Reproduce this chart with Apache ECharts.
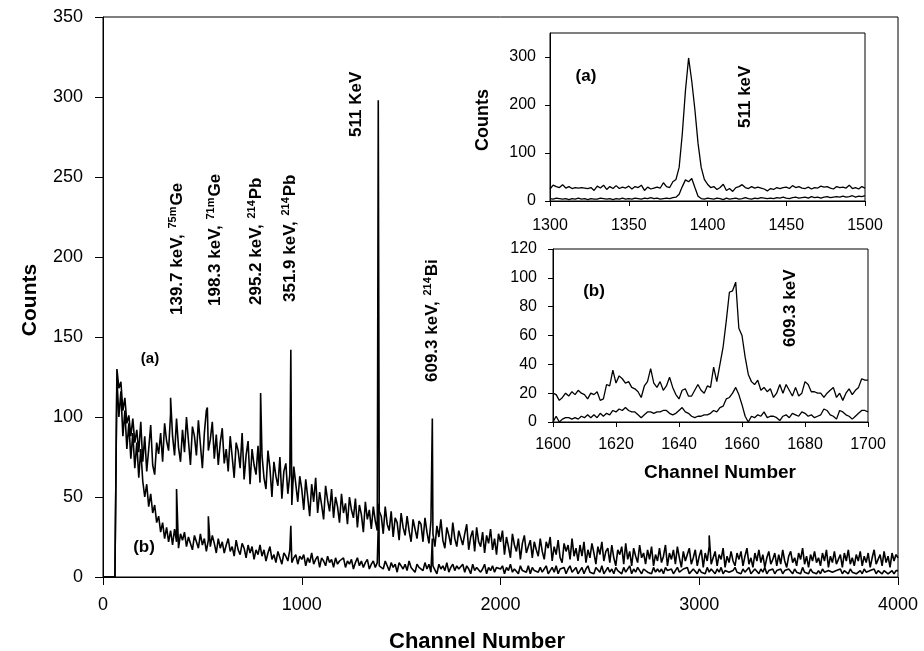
<!DOCTYPE html>
<html><head><meta charset="utf-8">
<script src="https://cdn.jsdelivr.net/npm/echarts@6/dist/echarts.min.js"></script>
<style>html,body{margin:0;padding:0;background:#fff}#c{width:924px;height:651px}</style>
</head><body><div id="c"></div>
<script>
// ---- Main spectrum, channel step 10 (0..4000) ----
const MAIN_STEP = 10;
const mainA = [
0,0,0,0,0,0,0,130,118,122,104,112,96,101,88,99,84,92,78,97,
72,88,66,80,95,70,64,84,77,90,72,96,85,79,102,88,76,99,81,72,
92,78,100,85,70,94,88,76,98,83,68,90,104,79,86,97,74,89,70,84,
93,71,80,66,88,75,62,84,79,68,90,61,76,85,58,80,70,64,82,59,
76,62,55,79,68,50,72,63,57,75,49,66,71,52,64,45,69,58,47,63,
55,42,61,50,38,58,47,62,40,53,45,36,57,48,41,55,37,50,44,34,
52,40,46,33,50,42,37,49,31,45,39,28,47,36,42,30,44,35,29,41,
38,27,44,33,29,41,25,37,34,23,40,31,26,38,29,22,36,30,24,35,
33,22,37,28,21,35,27,19,32,25,36,23,18,31,26,20,34,24,19,29,
30,20,27,33,17,25,29,16,31,22,19,28,15,26,21,30,17,24,14,27,
22,29,14,25,19,12,27,20,16,24,11,21,26,15,19,23,12,22,17,13,
24,16,11,22,18,25,10,19,14,23,12,9,21,16,20,11,24,13,18,10,
20,13,22,9,17,12,21,15,8,19,14,22,10,16,18,9,20,12,7,17,
14,19,8,21,11,16,7,18,13,9,20,12,15,8,17,11,19,7,14,10,
18,9,13,20,7,15,11,17,8,19,12,6,16,10,14,18,8,12,17,7,
13,17,6,15,10,19,8,12,16,7,14,11,18,6,13,9,16,10,7,15,
11,16,7,13,18,8,12,6,15,10,17,9,14,6,12,16,8,11,15,7,
14,8,17,10,6,13,16,9,12,7,15,11,18,8,13,6,14,10,16,9,
12,7,15,10,17,6,13,9,16,8,11,14,6,15,10,17,8,12,7,14,
10,16,7,13,9,15,6,12,17,8,11,14,7,16,9,13,6,15,10,14,
12];
const peaksA = [[340,112],[525,106],[793,115],[945,142],[1385,298],[1657,99],[3050,26]];
const mainB = [
0,0,0,0,0,0,0,124,100,116,88,104,80,96,74,90,68,84,62,80,
60,50,58,44,52,40,45,34,38,28,34,24,31,22,29,20,30,22,18,27,
23,28,19,25,21,17,26,22,18,27,20,24,16,23,19,26,21,15,24,18,
22,15,20,24,16,19,13,23,17,14,21,18,12,20,15,19,11,17,14,20,
13,17,10,15,19,11,14,9,16,12,8,15,13,10,17,9,12,14,8,13,
11,14,7,12,9,15,8,11,13,6,12,10,7,13,9,11,6,12,8,10,
9,12,6,10,8,11,5,9,12,7,10,6,9,11,5,8,10,6,9,7,
8,5,10,7,4,9,6,8,3,9,7,5,8,4,10,6,7,3,8,6,
7,4,9,5,8,3,7,6,2,8,5,7,4,9,3,6,8,4,7,5,
6,8,3,7,5,2,8,4,6,7,3,5,8,2,6,4,7,3,6,5,
5,7,2,6,4,8,3,5,6,2,7,4,5,3,7,2,6,4,5,3,
6,3,5,7,2,4,6,3,7,2,5,4,6,2,5,7,3,4,6,2,
4,6,2,5,7,3,4,2,6,5,3,7,2,4,6,3,5,2,6,4,
5,2,6,3,4,7,2,5,3,6,4,2,5,6,3,4,2,6,3,5,
3,5,2,6,4,3,5,2,4,6,3,2,5,4,6,2,3,5,4,2,
5,3,4,2,6,3,5,4,2,5,3,6,2,4,5,3,2,4,6,3,
4,2,5,3,4,6,2,3,5,4,2,5,3,6,2,4,3,5,2,4,
3,5,2,4,3,5,4,2,5,3,4,2,6,3,4,2,5,3,4,2,
4,2,5,3,2,4,5,3,2,4,3,5,2,4,3,2,5,3,4,2,
3,4,2,5,3,2,4,3,5,2,4,3,2,4,5,2,3,4,2,4,
4];
const peaksB = [[370,55],[530,38],[945,32],[1388,46],[1657,24]];

// ---- Inset (a): channels 1300..1500, step 2 ----
const INSET_A_START = 1300, INSET_A_STEP = 2;
const insetAUpper = [
25,33,30,28,34,27,30,26,28,27,28,27,26,28,22,31,27,33,24,30,26,
32,26,29,27,31,25,30,28,33,22,29,25,27,29,27,38,30,28,40,45,
70,140,230,298,250,190,120,70,45,35,
28,30,24,28,35,22,26,20,28,30,34,28,26,30,27,29,27,25,21,26,
24,28,26,28,29,26,32,28,30,27,26,29,25,28,27,31,29,30,27,25,
30,28,29,27,33,26,28,25,30,27];
const insetALower = [
5,4,6,5,4,5,3,5,4,6,4,5,3,5,4,4,6,5,4,5,3,
5,4,6,4,5,4,6,5,4,6,5,7,5,6,4,5,6,5,7,8,
14,30,44,40,47,28,10,5,4,6,
5,4,6,5,3,6,4,5,6,4,5,7,5,4,6,5,7,6,5,6,
5,7,6,8,6,5,7,8,6,7,8,6,9,7,8,6,8,9,7,8,
9,8,10,8,9,11,8,10,9,11];

// ---- Inset (b): channels 1600..1700, step 1 ----
const INSET_B_START = 1600, INSET_B_STEP = 1;
const insetBUpper = [
20,19,15,17,20,18,21,19,22,20,
19,16,20,19,21,15,16,26,25,36,
27,32,30,27,28,24,23,21,17,25,
28,37,27,24,28,22,25,31,24,19,
16,22,23,18,18,22,26,22,20,25,
24,38,28,40,52,70,90,91,97,65,
60,45,33,28,26,29,22,24,21,23,
17,20,26,20,26,22,18,24,18,20,
28,26,21,21,20,20,17,20,22,24,
17,20,15,20,23,19,22,24,30,29,
29];
const insetBLower = [
0,4,0,2,3,3,2,3,2,4,
3,5,3,5,3,6,4,6,5,8,
7,9,8,10,8,7,7,5,3,5,
7,7,6,7,7,8,8,6,5,6,
8,10,7,6,4,3,4,4,5,5,
6,8,7,10,11,16,17,20,24,19,
12,4,0,4,3,5,4,7,3,4,
4,3,1,4,5,3,6,5,4,7,
6,4,5,3,4,5,9,8,5,4,
2,8,7,5,4,2,4,6,8,8,
7];

// axis ticks
const mainXTicks = {min:0, max:4000, interval:1000};
const mainYTicks = {min:0, max:350, interval:50};
const insetAXTicks = {min:1300, max:1500, interval:50};
const insetAYTicks = {min:0, max:350, interval:100};
const insetBXTicks = {min:1600, max:1700, interval:20};
const insetBYTicks = {min:0, max:120, interval:20};

function toPairs(vals, start, step, extra){
  const pts = vals.map((v,i)=>[start + i*step, v]);
  (extra||[]).forEach(p=>pts.push(p.slice()));
  pts.sort((a,b)=>a[0]-b[0]);
  return pts;
}

const FONT = '"Liberation Sans", Arial, sans-serif';
const chart = echarts.init(document.getElementById('c'), null, {renderer:'canvas'});
const fmt = v => String(v);

function xAx(gi, t, fs, margin){
  return {type:'value', gridIndex:gi, min:t.min, max:t.max, interval:t.interval,
    axisLine:{show:true, onZero:false, lineStyle:{color:'#000', width:1}},
    axisTick:{show:true, inside:false, length:gi===0?8:5, lineStyle:{color:'#000'}},
    splitLine:{show:false},
    axisLabel:{color:'#000', fontSize:fs, fontFamily:FONT, margin:margin, formatter:fmt}};
}
function yAx(gi, t, fs, margin, hideMax){
  return {type:'value', gridIndex:gi, min:t.min, max:t.max, interval:t.interval,
    axisLine:{show:true, onZero:false, lineStyle:{color:'#000', width:1}},
    axisTick:{show:true, inside:false, length:gi===0?8:5, lineStyle:{color:'#000'}},
    splitLine:{show:false},
    axisLabel:{color:'#000', fontSize:fs, fontFamily:FONT, margin:margin, formatter:fmt, showMaxLabel: hideMax?false:true}};
}
function lineSeries(xi, data, w){
  return {type:'line', xAxisIndex:xi, yAxisIndex:xi, data:data, showSymbol:false, symbol:'none',
    sampling:false, animation:false, lineStyle:{color:'#000', width:w}, z:3};
}

const bold = (fs)=>({fontSize:fs, fontWeight:'bold', fontFamily:FONT, fill:'#000'});
function rotText(x, y, rich){
  return {type:'text', x:x, y:y, rotation:Math.PI/2, z:10,
    style:Object.assign({text:rich.text, rich:rich.rich, align:'left', verticalAlign:'middle'}, bold(17))};
}
const R = (fs)=>({fontSize:fs, fontWeight:'bold', fontFamily:FONT, color:'#000', lineHeight:20});
const S = (fs)=>({fontSize:fs, fontWeight:'bold', fontFamily:FONT, color:'#000', verticalAlign:'top', lineHeight:20, padding:[0,1,0,1]});
function supLabel(main, sup, tail){
  return {text:'{m|'+main+'}{s|'+sup+'}{m|'+tail+'}', rich:{m:R(17), s:S(11)}};
}
function plainLabel(t){ return {text:'{m|'+t+'}', rich:{m:R(17)}}; }

chart.setOption({
  animation:false,
  backgroundColor:'#fff',
  grid:[
    {left:103, top:17, width:795, height:560, show:true, borderColor:'#000', borderWidth:1, backgroundColor:'transparent'},
    {left:550, top:33, width:315, height:168, show:true, borderColor:'#000', borderWidth:1, backgroundColor:'#fff'},
    {left:553, top:249, width:315, height:173, show:true, borderColor:'#000', borderWidth:1, backgroundColor:'#fff'}
  ],
  xAxis:[ xAx(0, mainXTicks, 18, 19), xAx(1, insetAXTicks, 16, 17), xAx(2, insetBXTicks, 16, 15) ],
  yAxis:[ yAx(0, mainYTicks, 18, 20, false), yAx(1, insetAYTicks, 16, 14, true), yAx(2, insetBYTicks, 16, 16, false) ],
  series:[
    lineSeries(0, toPairs(mainA, 0, MAIN_STEP, peaksA), 1.6),
    lineSeries(0, toPairs(mainB, 0, MAIN_STEP, peaksB), 1.6),
    lineSeries(1, toPairs(insetAUpper, INSET_A_START, INSET_A_STEP), 1.3),
    lineSeries(1, toPairs(insetALower, INSET_A_START, INSET_A_STEP), 1.3),
    lineSeries(2, toPairs(insetBUpper, INSET_B_START, INSET_B_STEP), 1.3),
    lineSeries(2, toPairs(insetBLower, INSET_B_START, INSET_B_STEP), 1.3)
  ],
  graphic:[
    {type:'text', x:477, y:642, z:10, style:Object.assign({text:'Channel Number', align:'center', verticalAlign:'middle'}, bold(22))},
    {type:'text', x:30, y:300, rotation:Math.PI/2, z:10, style:Object.assign({text:'Counts', align:'center', verticalAlign:'middle'}, bold(21))},
    {type:'text', x:720, y:473, z:10, style:Object.assign({text:'Channel Number', align:'center', verticalAlign:'middle'}, bold(19))},
    {type:'text', x:483, y:120, rotation:Math.PI/2, z:10, style:Object.assign({text:'Counts', align:'center', verticalAlign:'middle'}, bold(18))},
    rotText(177, 315, supLabel('139.7 keV, ', '75m', 'Ge')),
    rotText(215, 306, supLabel('198.3 keV, ', '71m', 'Ge')),
    rotText(256, 305, supLabel('295.2 keV, ', '214', 'Pb')),
    rotText(290, 302, supLabel('351.9 keV, ', '214', 'Pb')),
    rotText(356, 137, plainLabel('511 KeV')),
    rotText(432, 382, supLabel('609.3 keV, ', '214', 'Bi')),
    rotText(745, 128, plainLabel('511 keV')),
    rotText(790, 347, plainLabel('609.3 keV')),
    {type:'text', x:150, y:359, z:10, style:Object.assign({text:'(a)', align:'center', verticalAlign:'middle'}, bold(15))},
    {type:'text', x:144, y:547, z:10, style:Object.assign({text:'(b)', align:'center', verticalAlign:'middle'}, bold(17))},
    {type:'text', x:586, y:76, z:10, style:Object.assign({text:'(a)', align:'center', verticalAlign:'middle'}, bold(17))},
    {type:'text', x:594, y:291, z:10, style:Object.assign({text:'(b)', align:'center', verticalAlign:'middle'}, bold(17))}
  ]
});
</script></body></html>
